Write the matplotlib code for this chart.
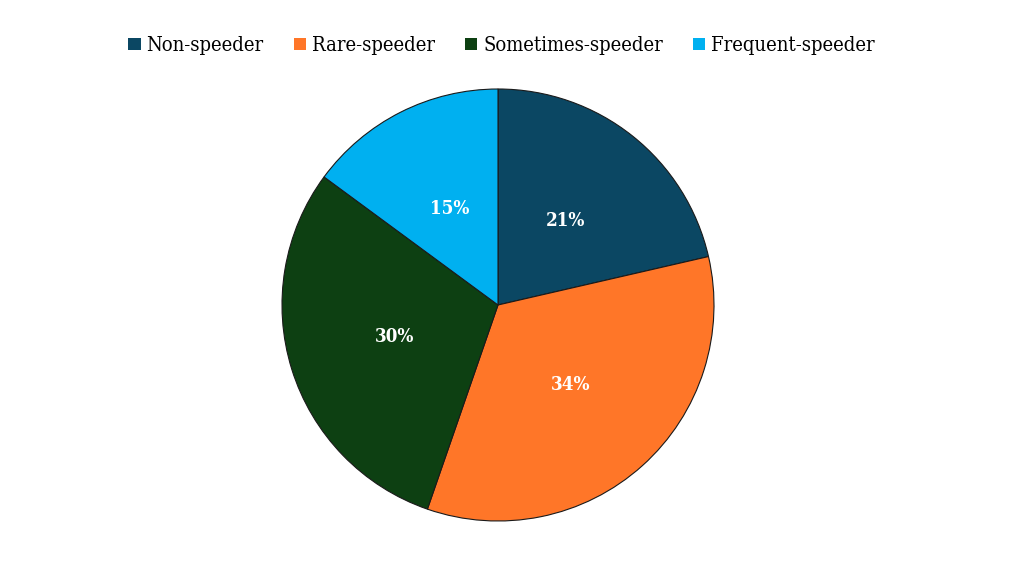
import matplotlib
matplotlib.use("Agg")

import matplotlib.pyplot as plt
from matplotlib.patches import Patch

categories = ["Non-speeder", "Rare-speeder", "Sometimes-speeder", "Frequent-speeder"]
shares = [21.4, 33.9, 29.8, 14.9]
labels = ["21%", "34%", "30%", "15%"]
colors = ["#0B4763", "#FF7628", "#0D4012", "#00B0F0"]

plt.rcParams["font.family"] = ["DejaVu Serif"]
plt.rcParams["font.stretch"] = "condensed"

fig = plt.figure(figsize=(10.24, 5.76), dpi=100)
ax = fig.add_axes([282 / 1024, 55 / 576, 432 / 1024, 432 / 576])

wedges, texts = ax.pie(
    shares,
    colors=colors,
    startangle=90,
    counterclock=False,
    labels=labels,
    labeldistance=0.5,
    wedgeprops=dict(edgecolor="#1a1a1a", linewidth=0.8),
    textprops=dict(color="white", fontsize=13.5, fontweight="bold",
                   ha="center", va="center"),
)
ax.set_xlim(-1, 1)
ax.set_ylim(-1, 1)
ax.set_aspect("equal")

handles = [Patch(facecolor=c, edgecolor="none", label=l) for c, l in zip(colors, categories)]
fig.legend(
    handles=handles,
    loc="center",
    bbox_to_anchor=(0.49, 0.921),
    ncol=4,
    frameon=False,
    fontsize=14.5,
    handlelength=0.6,
    handleheight=0.6,
    handletextpad=0.3,
    columnspacing=1.5,
)

fig.savefig("out.png", dpi=100)
